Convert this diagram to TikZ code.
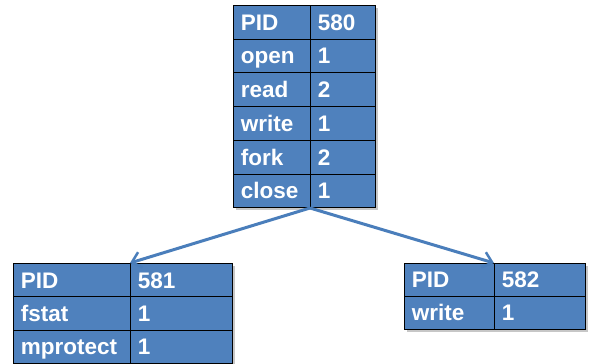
\documentclass[tikz,border=0pt]{standalone}
\usepackage{fontspec}
\setmainfont{Liberation Sans}
\usetikzlibrary{arrows.meta}
\definecolor{cellblue}{HTML}{4F81BD}
\definecolor{linkblue}{HTML}{4A7EBB}
\tikzset{
  cell/.style={draw=black, line width=0.8pt, fill=cellblue, text=white,
    font=\bfseries\fontsize{22.5}{22.5}\selectfont, anchor=north west,
    inner xsep=7.5pt, inner ysep=0pt, align=left,
    text height=16pt, text depth=0pt},
  shade box/.style={fill=black, opacity=0.22},
  link/.style={draw=linkblue, line width=3pt,
    -{Straight Barb[length=9pt,width=16pt,line width=2.5pt]}}
}
% \celltable{prefix}{x}{y}{w1}{w2}{row height}{list of key/value}
\newcommand{\celltable}[7]{%
  \foreach \k/\v [count=\i from 0] in {#7} {
    \node[cell, text width=#4pt-15pt, minimum height=#6pt]
      (#1-k\i) at (#2, #3 + \i*#6) {\k};
    \node[cell, text width=#5pt-15pt, minimum height=#6pt]
      (#1-v\i) at (#2 + #4, #3 + \i*#6) {\v};
  }%
}
\begin{document}
\begin{tikzpicture}[x=1pt, y=-1pt]
  \useasboundingbox (0,0) rectangle (589,364);
  % soft drop shadows under the tables
  \fill[shade box] (236,8) rectangle (378,210);
  \fill[shade box] (16,266) rectangle (235,366);
  \fill[shade box] (407,266) rectangle (588,332);
  % parent process
  \celltable{p}{233}{5}{77}{65}{33.7}{PID/580, open/1, read/2, write/1, fork/2, close/1}
  % children
  \celltable{a}{13}{263}{117}{102}{33.3}{PID/581, fstat/1, mprotect/1}
  \celltable{b}{404}{263}{90}{91}{33}{PID/582, write/1}
  % fork links
  \coordinate (fork) at (p-v5.south west);
  \draw[link] (fork) -- (a-v0.north west);
  \draw[link] (fork) -- (b-v0.north west);
\end{tikzpicture}
\end{document}
